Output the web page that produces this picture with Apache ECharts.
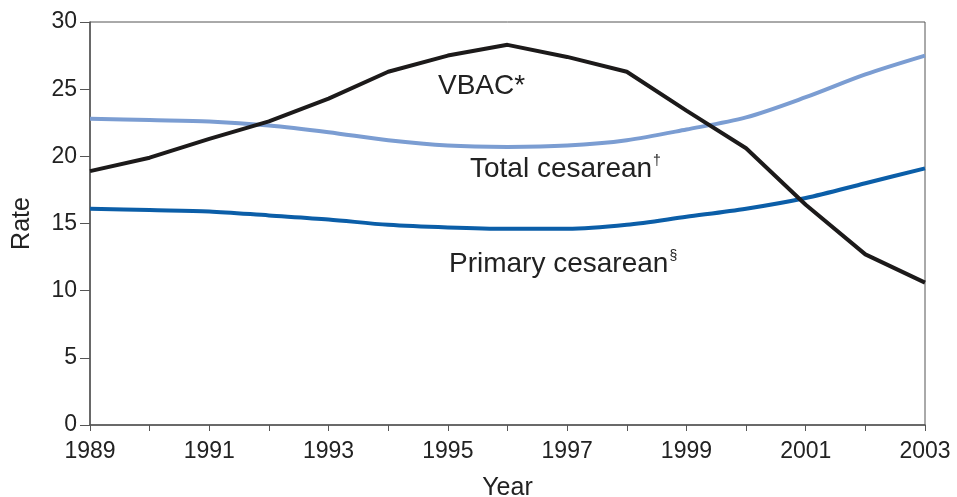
<!DOCTYPE html>
<html>
<head>
<meta charset="utf-8">
<script src="https://cdn.jsdelivr.net/npm/echarts@6/dist/echarts.min.js"></script>
<style>
html, body { margin: 0; padding: 0; background: #fff; }
#chart { width: 957px; height: 497px; }
</style>
</head>
<body>
<div id="chart"></div>
<script>
// years on the x axis
const years = ['1989', '1990', '1991', '1992', '1993', '1994', '1995', '1996',
  '1997', '1998', '1999', '2000', '2001', '2002', '2003']
// rates per 100
const vbac = [18.9, 19.9, 21.3, 22.6, 24.3, 26.3, 27.5, 28.3, 27.4, 26.3, 23.4, 20.6, 16.4, 12.7, 10.6]
const totalCesarean = [22.8, 22.7, 22.6, 22.3, 21.8, 21.2, 20.8, 20.7, 20.8, 21.2, 22.0, 22.9, 24.4, 26.1, 27.5]
const primaryCesarean = [16.1, 16.0, 15.9, 15.6, 15.3, 14.9, 14.7, 14.6, 14.6, 14.9, 15.5, 16.1, 16.9, 18.0, 19.1]

const font = 'Liberation Sans, Arial, Helvetica, sans-serif'
const axisColor = '#555'
const textColor = '#222'

let chart = echarts.init(document.getElementById('chart'))
let option = {
  animation: false,
  textStyle: { fontFamily: font },
  grid: {
    left: 90,
    right: 32,
    top: 22,
    bottom: 72,
    containLabel: false,
    outerBoundsMode: 'none',
    show: true,
    borderColor: axisColor,
    borderWidth: 1
  },
  xAxis: {
    type: 'category',
    data: years,
    boundaryGap: false,
    name: 'Year',
    nameLocation: 'middle',
    nameGap: 51,
    nameTextStyle: { fontSize: 25, color: textColor, fontFamily: font },
    axisLine: { lineStyle: { color: axisColor, width: 1.5 } },
    axisTick: { interval: 0, length: 6, lineStyle: { color: axisColor } },
    axisLabel: { interval: 1, fontSize: 23, color: textColor, margin: 15, fontFamily: font },
    splitLine: { show: false }
  },
  yAxis: {
    type: 'value',
    min: 0,
    max: 30,
    interval: 5,
    name: 'Rate',
    nameLocation: 'middle',
    nameGap: 55,
    nameTextStyle: { fontSize: 25, color: textColor, fontFamily: font },
    axisLine: { show: true, lineStyle: { color: axisColor, width: 1.5 } },
    axisTick: { show: true, length: 10, lineStyle: { color: axisColor } },
    axisLabel: { fontSize: 23, color: textColor, margin: 13, fontFamily: font },
    splitLine: { show: false }
  },
  series: [
    {
      name: 'Total cesarean',
      type: 'line',
      data: totalCesarean,
      smooth: 0.3,
      showSymbol: false,
      lineStyle: { color: '#7b9dd2', width: 4 }
    },
    {
      name: 'Primary cesarean',
      type: 'line',
      data: primaryCesarean,
      smooth: 0.3,
      showSymbol: false,
      lineStyle: { color: '#0b5ea8', width: 4 }
    },
    {
      name: 'VBAC',
      type: 'line',
      data: vbac,
      showSymbol: false,
      lineStyle: { color: '#1c1a1a', width: 4 }
    }
  ],
  graphic: [
    {
      type: 'text',
      left: 438,
      top: 72,
      style: {
        text: '{m|VBAC*}',
        rich: { m: { fontSize: 28, fill: textColor, fontFamily: font } }
      }
    },
    {
      type: 'text',
      left: 470,
      top: 154,
      style: {
        text: '{m|Total cesarean}{s|†}',
        rich: {
          m: { fontSize: 28, fill: textColor, fontFamily: font },
          s: { fontSize: 14, fill: textColor, fontFamily: font, verticalAlign: 'top', padding: [0, 0, 16, 1] }
        }
      }
    },
    {
      type: 'text',
      left: 449,
      top: 249,
      style: {
        text: '{m|Primary cesarean}{s|§}',
        rich: {
          m: { fontSize: 28, fill: textColor, fontFamily: font },
          s: { fontSize: 14, fill: textColor, fontFamily: font, verticalAlign: 'top', padding: [0, 0, 16, 1] }
        }
      }
    }
  ]
}
chart.setOption(option)
</script>
</body>
</html>
